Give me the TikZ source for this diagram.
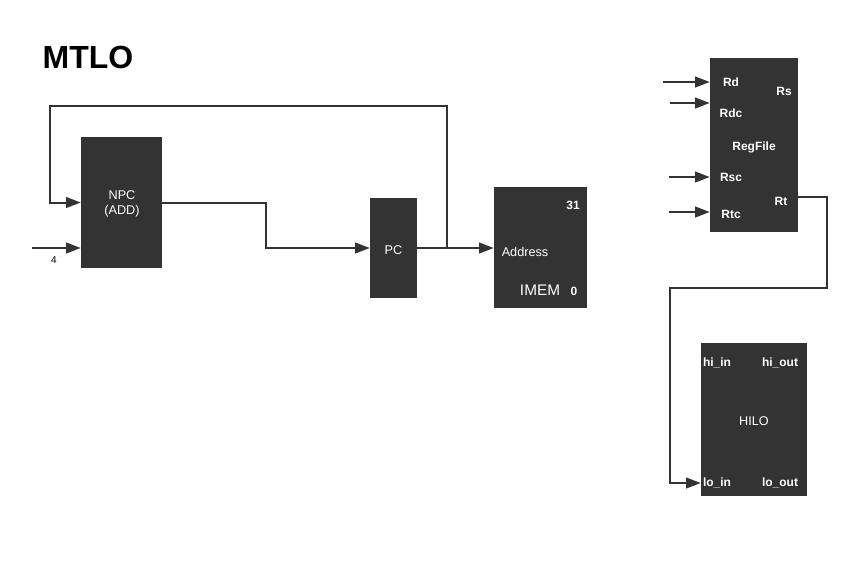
\documentclass[tikz,border=0pt]{standalone}
\usepackage{fontspec}
\setmainfont{Liberation Sans}
\usetikzlibrary{arrows.meta, positioning}

\begin{document}
\begin{tikzpicture}[x=0.75pt, y=-0.75pt,
  line/.style={draw=black!80, line width=1.5pt},
  arr/.style={line, -{Triangle[length=11pt,width=8pt]}},
  blk/.style={fill=black!80, draw=none, inner sep=0pt},
  txt/.style={text=white, inner sep=0pt, font=\fontsize{9.5}{11.5}\selectfont},
  lbl/.style={text=white, inner sep=0pt, font=\bfseries\fontsize{9}{10}\selectfont}]
\useasboundingbox (0,0) rectangle (852,562);
\node[font=\bfseries\fontsize{24}{27}\selectfont] (title) at (88,57) {MTLO};
% blocks
\node[blk, minimum width=60.75pt, minimum height=98.25pt] (npc) at (121.5,202.5) {};
\node[txt, align=center] (npctxt) at (122,204) {NPC\\(ADD)};
\node[blk, minimum width=35.25pt, minimum height=75pt] (pc) at (393.5,248) {};
\node[txt] (pctxt) at (393.5,250) {PC};
\node[blk, minimum width=69.75pt, minimum height=90.75pt] (imem) at (540.5,247.5) {};
\node[lbl] (i31) at (573,205) {31};
\node[txt] (addr) at (525,252) {Address};
\node[txt, font=\fontsize{11.5}{13}\selectfont] (imemtxt) at (540,290) {IMEM};
\node[lbl] (i0) at (574,291) {0};
\node[blk, minimum width=66pt, minimum height=130.5pt] (rf) at (754,145) {};
\node[lbl] (rd) at (731,82) {Rd};
\node[lbl] (rs) at (784,91) {Rs};
\node[lbl] (rdc) at (731,113) {Rdc};
\node[lbl] (rftxt) at (754,147) {RegFile};
\node[lbl] (rsc) at (731,177) {Rsc};
\node[lbl] (rt) at (781,201) {Rt};
\node[lbl] (rtc) at (731,214) {Rtc};
\node[blk, minimum width=79.5pt, minimum height=114.75pt] (hilo) at (754,419.5) {};
\node[lbl] (hiin) at (717,363) {hi\_in};
\node[lbl] (hiout) at (780,363) {hi\_out};
\node[txt] (hilotxt) at (754,421) {HILO};
\node[lbl] (loin) at (717,483) {lo\_in};
\node[lbl] (loout) at (780,483) {lo\_out};
% connectors
\coordinate (four) at (32,248);
\node[font=\fontsize{7.5}{9}\selectfont, inner sep=0pt] (fourtxt) at (54,260) {4};
\draw[arr] (four) -- (four -| npc.west);
\draw[arr] (npc.east) -- (266,202.5) |- (pc.west);
\draw[arr] (pc.east) -- (pc.east -| imem.west);
\coordinate (fb) at (447,248);
\coordinate (fbtop) at (447,106);
\coordinate (fbleft) at (50,106);
\draw[arr] (fb) -- (fbtop) -- (fbleft) |- (npc.west);
\coordinate (rdin) at (663,82);
\coordinate (rdcin) at (670,103);
\coordinate (rscin) at (669,177);
\coordinate (rtcin) at (669,212);
\draw[arr] (rdin) -- (rdin -| rf.west);
\draw[arr] (rdcin) -- (rdcin -| rf.west);
\draw[arr] (rscin) -- (rscin -| rf.west);
\draw[arr] (rtcin) -- (rtcin -| rf.west);
\coordinate (rtright) at (827,197);
\coordinate (rtdown) at (827,288);
\coordinate (rtleft) at (670,288);
\draw[arr] (rf.east |- rtright) -- (rtright) -- (rtdown) -- (rtleft) |- (hilo.west |- loin);
\end{tikzpicture}
\end{document}
